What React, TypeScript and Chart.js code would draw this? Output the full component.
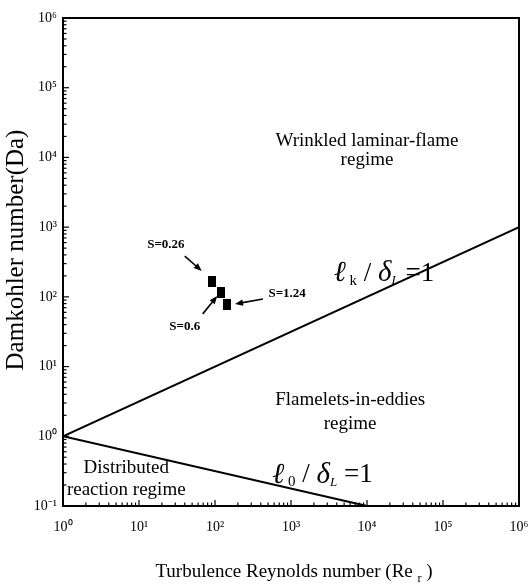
import React, { useEffect, useRef } from "react";
import { Chart, registerables } from "chart.js";

Chart.register(...registerables);

// ---- data ----
const RE_TICKS = [1, 10, 100, 1e3, 1e4, 1e5, 1e6];
const RE_TICK_LABELS = ["10⁰", "10¹", "10²", "10³", "10⁴", "10⁵", "10⁶"];
const DA_TICKS = [0.1, 1, 10, 100, 1e3, 1e4, 1e5, 1e6];
const DA_TICK_LABELS = ["10⁻¹", "10⁰", "10¹", "10²", "10³", "10⁴", "10⁵", "10⁶"];

const KOLMOGOROV_RE = [1, 1e6];
const KOLMOGOROV_DA = [1, 1000];
const INTEGRAL_RE = [1, 1e4];
const INTEGRAL_DA = [1, 0.1];

const CASE_LABELS = ["S=0.26", "S=0.6", "S=1.24"];
const CASE_RE = [91, 120, 144];
const CASE_DA = [164, 114, 77];

const X_TITLE = "Turbulence Reynolds number (Re";
const X_TITLE_SUB = "r";
const Y_TITLE = "Damkohler number(Da)";

// ---- annotations (data units) ----
const REGION_TEXTS = [
  { lines: ["Wrinkled laminar-flame", "regime"], re: 1e4, da: [17000, 9300] },
  { lines: ["Flamelets-in-eddies", "regime"], re: 6000, da: [3.3, 1.5] },
  { lines: ["Distributed", "reaction regime"], re: 6.8, da: [0.35, 0.17] },
];
const CASE_LABEL_POS = [
  { re: 22.6, da: 570 },
  { re: 40, da: 37 },
  { re: 890, da: 110 },
];
const CASE_ARROWS = [
  { from: [40, 385], to: [67, 235] },
  { from: [69, 57], to: [107, 103] },
  { from: [427, 93], to: [183, 79] },
];

const SERIF = '"Liberation Serif", "Times New Roman", serif';

type Seg = { t: string; font: string; dy?: number };

function drawRich(ctx: CanvasRenderingContext2D, segs: Seg[], cx: number, cy: number) {
  let total = 0;
  for (const s of segs) {
    ctx.font = s.font;
    total += ctx.measureText(s.t).width;
  }
  let x = cx - total / 2;
  ctx.textAlign = "left";
  ctx.textBaseline = "middle";
  for (const s of segs) {
    ctx.font = s.font;
    ctx.fillText(s.t, x, cy + (s.dy || 0));
    x += ctx.measureText(s.t).width;
  }
}

function arrow(ctx: CanvasRenderingContext2D, x1: number, y1: number, x2: number, y2: number) {
  const a = Math.atan2(y2 - y1, x2 - x1);
  const hl = 8;
  const hw = 3.2;
  ctx.beginPath();
  ctx.moveTo(x1, y1);
  ctx.lineTo(x2 - Math.cos(a) * hl * 0.8, y2 - Math.sin(a) * hl * 0.8);
  ctx.lineWidth = 1.6;
  ctx.strokeStyle = "#000";
  ctx.stroke();
  ctx.beginPath();
  ctx.moveTo(x2, y2);
  ctx.lineTo(x2 - Math.cos(a) * hl - Math.sin(a) * hw, y2 - Math.sin(a) * hl + Math.cos(a) * hw);
  ctx.lineTo(x2 - Math.cos(a) * hl + Math.sin(a) * hw, y2 - Math.sin(a) * hl - Math.cos(a) * hw);
  ctx.closePath();
  ctx.fillStyle = "#000";
  ctx.fill();
}

const overlayPlugin = {
  id: "overlay",
  afterDatasetsDraw(chart: any) {
    const ctx: CanvasRenderingContext2D = chart.ctx;
    const xs = chart.scales.x;
    const ys = chart.scales.y;
    const area = chart.chartArea;
    ctx.save();
    ctx.fillStyle = "#000";
    ctx.strokeStyle = "#000";

    // inward ticks
    ctx.lineWidth = 1.2;
    const xmin = Math.log10(xs.min), xmax = Math.log10(xs.max);
    for (let e = Math.floor(xmin); e <= xmax; e++) {
      for (let m = 1; m <= 9; m++) {
        const v = m * Math.pow(10, e);
        if (v < xs.min * 0.999 || v > xs.max * 1.001) continue;
        const px = xs.getPixelForValue(v);
        const len = m === 1 ? 6 : 3.5;
        ctx.beginPath();
        ctx.moveTo(px, area.bottom);
        ctx.lineTo(px, area.bottom - len);
        ctx.stroke();
      }
    }
    const ymin = Math.log10(ys.min), ymax = Math.log10(ys.max);
    for (let e = Math.floor(ymin); e <= ymax; e++) {
      for (let m = 1; m <= 9; m++) {
        const v = m * Math.pow(10, e);
        if (v < ys.min * 0.999 || v > ys.max * 1.001) continue;
        const py = ys.getPixelForValue(v);
        const len = m === 1 ? 6 : 3.5;
        ctx.beginPath();
        ctx.moveTo(area.left, py);
        ctx.lineTo(area.left + len, py);
        ctx.stroke();
      }
    }

    // region texts
    ctx.textAlign = "center";
    ctx.textBaseline = "middle";
    ctx.font = `19px ${SERIF}`;
    for (const r of REGION_TEXTS) {
      const px = xs.getPixelForValue(r.re);
      r.lines.forEach((ln, i) => {
        ctx.fillText(ln, px, ys.getPixelForValue(r.da[i]));
      });
    }

    // equations
    const big = `italic 29px ${SERIF}`;
    const mid = `27px ${SERIF}`;
    const sub = `15px ${SERIF}`;
    const subi = `italic 13px ${SERIF}`;
    drawRich(
      ctx,
      [
        { t: "ℓ", font: big },
        { t: " k", font: sub, dy: 7 },
        { t: " / ", font: mid },
        { t: "δ", font: big },
        { t: "L", font: subi, dy: 7 },
        { t: " =1", font: mid },
      ],
      xs.getPixelForValue(16700),
      ys.getPixelForValue(215)
    );
    drawRich(
      ctx,
      [
        { t: "ℓ", font: big },
        { t: " 0", font: sub, dy: 7 },
        { t: " / ", font: mid },
        { t: "δ", font: big },
        { t: "L", font: subi, dy: 7 },
        { t: " =1", font: mid },
      ],
      xs.getPixelForValue(2600),
      ys.getPixelForValue(0.277)
    );

    // case labels + arrows
    ctx.font = `bold 13px ${SERIF}`;
    ctx.textAlign = "center";
    ctx.textBaseline = "middle";
    CASE_LABELS.forEach((lab, i) => {
      const p = CASE_LABEL_POS[i];
      ctx.fillText(lab, xs.getPixelForValue(p.re), ys.getPixelForValue(p.da));
      const a = CASE_ARROWS[i];
      arrow(
        ctx,
        xs.getPixelForValue(a.from[0]),
        ys.getPixelForValue(a.from[1]),
        xs.getPixelForValue(a.to[0]),
        ys.getPixelForValue(a.to[1])
      );
    });

    // x title with subscript
    ctx.fillStyle = "#000";
    drawRich(
      ctx,
      [
        { t: X_TITLE + " ", font: `19px ${SERIF}` },
        { t: X_TITLE_SUB, font: `12px ${SERIF}`, dy: 7 },
        { t: " )", font: `19px ${SERIF}` },
      ],
      (area.left + area.right) / 2 + 3,
      572
    );

    // y title
    ctx.save();
    ctx.translate(16, 250);
    ctx.rotate(-Math.PI / 2);
    ctx.font = `25px ${SERIF}`;
    ctx.textAlign = "center";
    ctx.textBaseline = "middle";
    ctx.fillText(Y_TITLE, 0, 0);
    ctx.restore();

    ctx.restore();
  },
};

export default function App() {
  const ref = useRef<HTMLCanvasElement | null>(null);
  useEffect(() => {
    if (!ref.current) return;
    const marker = document.createElement("canvas");
    marker.width = 8;
    marker.height = 11;
    const mctx = marker.getContext("2d")!;
    mctx.fillStyle = "#000";
    mctx.fillRect(0, 0, 8, 11);

    const chart = new Chart(ref.current, {
      type: "scatter",
      data: {
        datasets: [
          {
            label: "lk/dL=1",
            type: "line",
            data: KOLMOGOROV_RE.map((x, i) => ({ x, y: KOLMOGOROV_DA[i] })),
            borderColor: "#000",
            borderWidth: 2,
            pointRadius: 0,
          } as any,
          {
            label: "l0/dL=1",
            type: "line",
            data: INTEGRAL_RE.map((x, i) => ({ x, y: INTEGRAL_DA[i] })),
            borderColor: "#000",
            borderWidth: 2,
            pointRadius: 0,
          } as any,
          {
            label: "cases",
            data: CASE_RE.map((x, i) => ({ x, y: CASE_DA[i] })),
            pointStyle: marker as any,
            backgroundColor: "#000",
            borderColor: "#000",
          },
        ],
      },
      options: {
        animation: false,
        responsive: false,
        layout: { padding: { top: 18, right: 9, left: 0, bottom: 0 } },
        plugins: { legend: { display: false }, tooltip: { enabled: false } },
        scales: {
          x: {
            type: "logarithmic",
            min: 1,
            max: 1e6,
            afterBuildTicks: (s: any) => {
              s.ticks = RE_TICKS.map((v) => ({ value: v }));
            },
            afterFit: (s: any) => {
              s.height = 79;
              s.paddingLeft = 0;
              s.paddingRight = 0;
            },
            ticks: {
              autoSkip: false,
              maxRotation: 0,
              padding: 13,
              color: "#000",
              font: { family: SERIF, size: 14 },
              callback: (v: any) => {
                const i = RE_TICKS.findIndex((t) => Math.abs(t - Number(v)) < t * 1e-6);
                return i >= 0 ? RE_TICK_LABELS[i] : "";
              },
            },
            grid: { drawOnChartArea: false, drawTicks: false, color: "#000" },
            border: { color: "#000", width: 2 },
          },
          y: {
            type: "logarithmic",
            min: 0.1,
            max: 1e6,
            afterBuildTicks: (s: any) => {
              s.ticks = DA_TICKS.map((v) => ({ value: v }));
            },
            afterFit: (s: any) => {
              s.width = 63;
              s.paddingTop = 0;
              s.paddingBottom = 0;
            },
            ticks: {
              autoSkip: false,
              padding: 6,
              color: "#000",
              font: { family: SERIF, size: 14 },
              callback: (v: any) => {
                const i = DA_TICKS.findIndex((t) => Math.abs(t - Number(v)) < t * 1e-6);
                return i >= 0 ? DA_TICK_LABELS[i] : "";
              },
            },
            grid: { drawOnChartArea: false, drawTicks: false, color: "#000" },
            border: { color: "#000", width: 2 },
          },
          x2: {
            type: "logarithmic",
            position: "top",
            min: 1,
            max: 1e6,
            display: true,
            ticks: { display: false },
            grid: { drawOnChartArea: false, drawTicks: false },
            border: { color: "#000", width: 2 },
            afterFit: (s: any) => {
              s.height = 0;
              s.paddingLeft = 0;
              s.paddingRight = 0;
            },
          },
          y2: {
            type: "logarithmic",
            position: "right",
            min: 0.1,
            max: 1e6,
            display: true,
            ticks: { display: false },
            grid: { drawOnChartArea: false, drawTicks: false },
            border: { color: "#000", width: 2 },
            afterFit: (s: any) => {
              s.width = 0;
              s.paddingTop = 0;
              s.paddingBottom = 0;
            },
          },
        },
      },
      plugins: [overlayPlugin],
    });
    return () => chart.destroy();
  }, []);

  return (
    <div style={{ position: "fixed", left: 0, top: 0, width: 528, height: 585, background: "#fff" }}>
      <canvas ref={ref} width={528} height={585} style={{ display: "block" }} />
    </div>
  );
}
